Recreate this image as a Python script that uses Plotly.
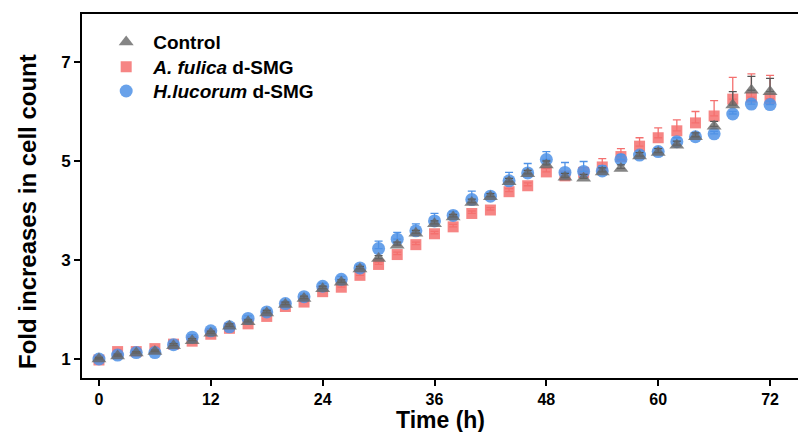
import plotly.graph_objects as go

time_h = [0, 2, 4, 6, 8, 10, 12, 14, 16, 18, 20, 22, 24, 26, 28, 30, 32, 34, 36,
          38, 40, 42, 44, 46, 48, 50, 52, 54, 56, 58, 60, 62, 64, 66, 68, 70, 72]

control = [1.00, 1.06, 1.12, 1.15, 1.27, 1.37, 1.52, 1.66, 1.75, 1.93, 2.10, 2.22,
           2.42, 2.55, 2.82, 3.03, 3.30, 3.54, 3.73, 3.87, 4.16, 4.28, 4.58, 4.74,
           4.92, 4.67, 4.65, 4.78, 4.85, 5.10, 5.17, 5.32, 5.49, 5.70, 6.13, 6.43, 6.40]
control_err = [0.03, 0.04, 0.03, 0.03, 0.04, 0.04, 0.04, 0.05, 0.04, 0.05, 0.05, 0.05,
               0.05, 0.05, 0.05, 0.06, 0.06, 0.06, 0.06, 0.05, 0.07, 0.06, 0.07, 0.07,
               0.08, 0.08, 0.08, 0.08, 0.07, 0.07, 0.08, 0.08, 0.08, 0.10, 0.27, 0.28, 0.27]

fulica = [0.98, 1.15, 1.15, 1.21, 1.30, 1.36, 1.50, 1.62, 1.71, 1.86, 2.06, 2.15,
          2.36, 2.45, 2.69, 2.91, 3.11, 3.31, 3.53, 3.67, 3.94, 4.01, 4.38, 4.50,
          4.78, 4.70, 4.77, 4.88, 5.09, 5.30, 5.47, 5.61, 5.77, 5.91, 6.25, 6.29, 6.26]
fulica_err = [0.03, 0.04, 0.03, 0.03, 0.03, 0.04, 0.04, 0.04, 0.04, 0.04, 0.04, 0.04,
              0.05, 0.05, 0.05, 0.05, 0.05, 0.05, 0.05, 0.05, 0.05, 0.05, 0.06, 0.06,
              0.07, 0.08, 0.10, 0.17, 0.16, 0.17, 0.20, 0.22, 0.23, 0.31, 0.44, 0.47, 0.47]

lucorum = [1.00, 1.08, 1.13, 1.13, 1.29, 1.44, 1.57, 1.65, 1.82, 1.95, 2.12, 2.26,
           2.47, 2.61, 2.84, 3.23, 3.42, 3.59, 3.79, 3.90, 4.22, 4.29, 4.60, 4.76,
           5.03, 4.77, 4.79, 4.80, 5.03, 5.12, 5.19, 5.39, 5.49, 5.55, 5.95, 6.15, 6.14]
lucorum_err = [0.03, 0.04, 0.04, 0.04, 0.04, 0.05, 0.05, 0.05, 0.05, 0.05, 0.05, 0.05,
               0.06, 0.06, 0.06, 0.15, 0.14, 0.14, 0.15, 0.08, 0.17, 0.06, 0.17, 0.19,
               0.16, 0.20, 0.20, 0.10, 0.10, 0.08, 0.07, 0.08, 0.06, 0.05, 0.05, 0.07, 0.07]

y_ticks = [1, 3, 5, 7]
x_ticks = [0, 12, 24, 36, 48, 60, 72]

FONT = "Liberation Sans, Arial, sans-serif"


def up_err(err, color):
    return dict(type="data", symmetric=False, array=err, arrayminus=[0] * len(err),
                color=color, thickness=1.3, width=4)


fig = go.Figure()
fig.add_trace(go.Scatter(
    x=time_h, y=fulica, mode="markers", name="<b><i>A. fulica</i> d-SMG</b>", legend="legend2",
    marker=dict(symbol="square", size=11, color="#f4706f", opacity=0.85),
    error_y=up_err(fulica_err, "#f4706f"),
))
fig.add_trace(go.Scatter(
    x=time_h, y=lucorum, mode="markers", name="<b><i>H.lucorum</i> d-SMG</b>", legend="legend3",
    marker=dict(symbol="circle", size=13, color="#4f92e6", opacity=0.85),
    error_y=up_err(lucorum_err, "#4f92e6"),
))
fig.add_trace(go.Scatter(
    x=time_h, y=control, mode="markers", name="<b>Control</b>", legend="legend",
    marker=dict(symbol="triangle-up", size=13, color="#666666", opacity=0.8),
    error_y=up_err(control_err, "#555555"),
))


def legend_box(ypaper):
    return dict(
        x=0.024, y=ypaper, xanchor="left", yanchor="middle",
        bgcolor="rgba(0,0,0,0)",
        font=dict(family=FONT, size=19, color="black"),
        itemwidth=44,
    )


fig.update_layout(
    width=798, height=432,
    margin=dict(l=82, r=0, t=14, b=54),
    paper_bgcolor="white", plot_bgcolor="white",
    font=dict(family=FONT, color="black"),
    showlegend=True,
    legend=legend_box(0.923),
    legend2=legend_box(0.855),
    legend3=legend_box(0.788),
    xaxis=dict(
        range=[-1.82, 75.0], tickvals=x_ticks, ticktext=[str(v) for v in x_ticks],
        showgrid=False, zeroline=False, automargin=False,
        showline=True, linecolor="black", linewidth=2, mirror=True,
        ticks="outside", ticklen=6, tickwidth=2, tickcolor="black",
        tickfont=dict(family=FONT, size=16, color="black", weight="bold"),
    ),
    yaxis=dict(
        range=[0.616, 7.97], tickvals=y_ticks, ticktext=[str(v) for v in y_ticks],
        showgrid=False, zeroline=False, automargin=False,
        showline=True, linecolor="black", linewidth=2,
        ticks="outside", ticklen=6, tickwidth=2, tickcolor="black",
        tickfont=dict(family=FONT, size=17, color="black", weight="bold"),
    ),
    annotations=[
        dict(
            text="<b>Fold increases in cell count</b>", textangle=-90,
            xref="paper", yref="paper", x=0, y=0.456, xanchor="center", yanchor="middle",
            xshift=-55, showarrow=False,
            font=dict(family=FONT, size=24, color="black"),
        ),
        dict(
            text="<b>Time (h)</b>",
            xref="paper", yref="paper", x=0.5, y=-0.1154, xanchor="center", yanchor="middle",
            showarrow=False,
            font=dict(family=FONT, size=23, color="black"),
        ),
    ],
)

fig.write_html(
    "out.html",
    config={"displayModeBar": False},
    post_script="document.body.style.margin='0';document.body.style.overflow='hidden';",
)
